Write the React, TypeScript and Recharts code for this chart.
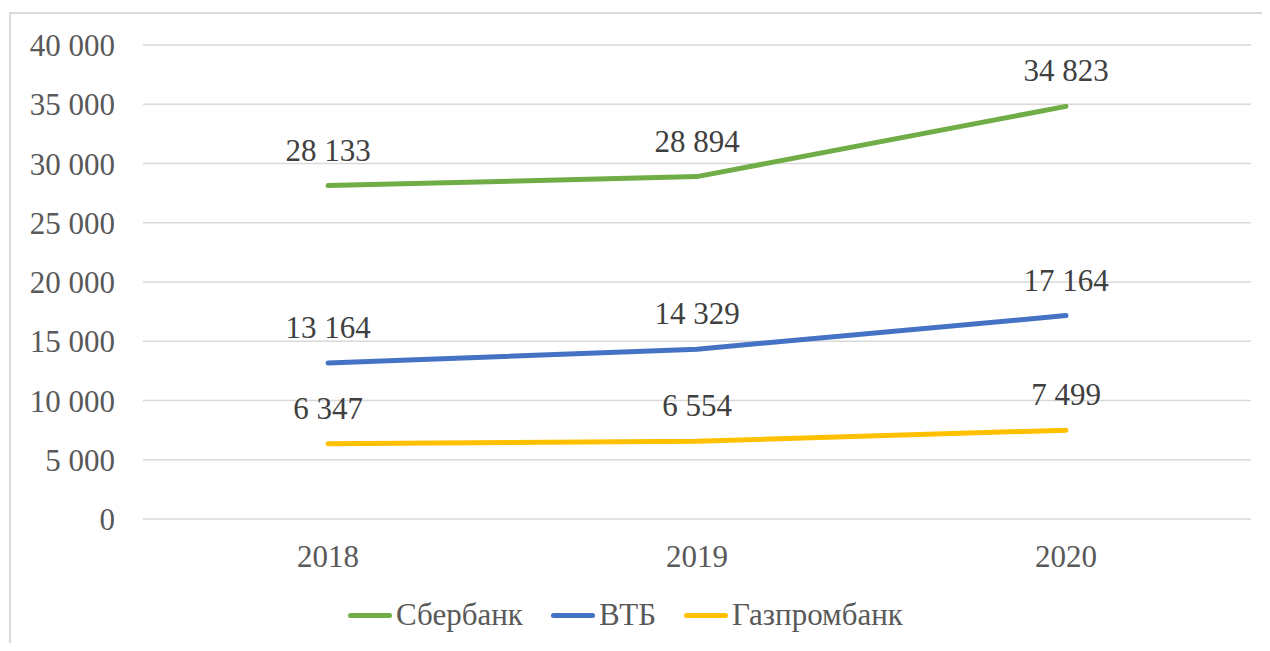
import { LineChart, Line, XAxis, YAxis, CartesianGrid, Legend, LabelList } from "recharts";

// values
const years = ["2018", "2019", "2020"];
const sber = [28133, 28894, 34823];
const vtb = [13164, 14329, 17164];
const gpb = [6347, 6554, 7499];
const yTicks = [0, 5000, 10000, 15000, 20000, 25000, 30000, 35000, 40000];

const SERIES = [
    { key: "sber", name: "Сбербанк", color: "#70AD47" },
    { key: "vtb", name: "ВТБ", color: "#4472C4" },
    { key: "gpb", name: "Газпромбанк", color: "#FFC000" },
];

const data = years.map((y, i) => ({ year: y, sber: sber[i], vtb: vtb[i], gpb: gpb[i] }));

const FONT = "Liberation Serif";

// 28133 -> "28 133"
const fmt = (v: number) => String(v).replace(/\B(?=(\d{3})+(?!\d))/g, " ");

const LegendRow = () => (
    <div
        style={{
            height: 72,
            display: "flex",
            alignItems: "center",
            justifyContent: "center",
            fontFamily: FONT,
            fontSize: 31,
            color: "#595959",
        }}
    >
        {SERIES.map((s, i) => (
            <div key={s.key} style={{ display: "flex", alignItems: "center", marginLeft: i ? 28 : 0 }}>
                <div style={{ width: 44, height: 5, borderRadius: 3, background: s.color, marginRight: 4 }} />
                <span>{s.name}</span>
            </div>
        ))}
    </div>
);

export default function App() {
    return (
        <div style={{ position: "relative", width: 1270, height: 651, margin: -8, overflow: "hidden", fontFamily: FONT }}>
            <div
                style={{
                    position: "absolute",
                    left: 9,
                    top: 12,
                    width: 1320,
                    height: 720,
                    border: "2px solid #d9d9d9",
                }}
            />
            <div style={{ position: "absolute", left: 0, top: 0 }}>
                <LineChart width={1270} height={651} data={data} margin={{ top: 45, right: 19, left: 0, bottom: 0 }}>
                    <CartesianGrid vertical={false} stroke="#d9d9d9" strokeWidth={1.5} />
                    <XAxis
                        dataKey="year"
                        height={60}
                        padding={{ left: 185, right: 185 }}
                        axisLine={false}
                        tickLine={false}
                        tickMargin={20}
                        tick={{ fill: "#595959", fontSize: 31, fontFamily: FONT }}
                    />
                    <YAxis
                        width={143}
                        domain={[0, 40000]}
                        ticks={yTicks}
                        axisLine={false}
                        tickLine={false}
                        tickMargin={22}
                        tickFormatter={fmt}
                        tick={{ fill: "#595959", fontSize: 31, fontFamily: FONT }}
                    />
                    <Legend verticalAlign="bottom" content={() => <LegendRow />} />
                    {SERIES.map((s) => (
                        <Line
                            key={s.key}
                            dataKey={s.key}
                            name={s.name}
                            stroke={s.color}
                            strokeWidth={5}
                            strokeLinecap="round"
                            dot={false}
                            isAnimationActive={false}
                        >
                            <LabelList
                                dataKey={s.key}
                                position="top"
                                offset={25}
                                formatter={(v: any) => fmt(Number(v))}
                                fill="#404040"
                                fontSize={31}
                                fontFamily={FONT}
                            />
                        </Line>
                    ))}
                </LineChart>
            </div>
        </div>
    );
}
